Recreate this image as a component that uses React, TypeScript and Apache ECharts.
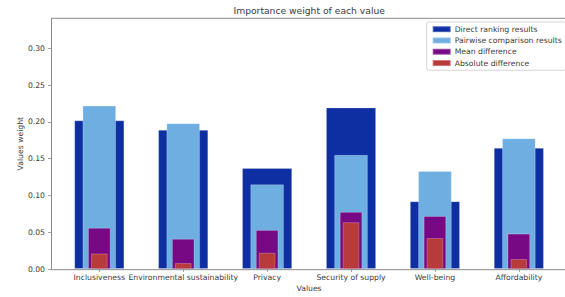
import React, { useEffect, useRef } from 'react';
import * as echarts from 'echarts';

const categories = ['Inclusiveness', 'Environmental sustainability', 'Privacy', 'Security of supply', 'Well-being', 'Affordability'];
const directRanking = [0.202, 0.189, 0.137, 0.2195, 0.092, 0.1645];
const pairwise = [0.222, 0.198, 0.115, 0.155, 0.133, 0.1775];
const meanDiff = [0.056, 0.041, 0.053, 0.0775, 0.072, 0.048];
const absDiff = [0.021, 0.008, 0.022, 0.0635, 0.042, 0.0135];
const yTicks = [0, 0.05, 0.1, 0.15, 0.2, 0.25, 0.3];
const seriesNames = ['Direct ranking results', 'Pairwise comparison results', 'Mean difference', 'Absolute difference'];

const FONT = '"DejaVu Sans", sans-serif';
const TXT = '#3a3a3a';
const SPINE = '#8a8a8a';

export default function App() {
  const ref = useRef<HTMLDivElement>(null);
  useEffect(() => {
    if (!ref.current) return;
    const chart = echarts.init(ref.current, undefined, { renderer: 'svg' });
    const left = 57.35, right = 4.2, top = 18.3, bottom = 27.3;
    const W = 565, H = 297;
    const axisBottomY = H - bottom;
    const hiddenX = { type: 'category', data: categories, show: false, boundaryGap: true };
    const colors = ['#0d2fa1', '#6eaee1', '#770a84', '#b83a3a'];
    const widths = [50, 33.5, 22.5, 16.5];
    const datas = [directRanking, pairwise, meanDiff, absDiff];
    chart.setOption({
      animation: false,
      backgroundColor: '#ffffff',
      textStyle: { fontFamily: FONT },
      title: {
        text: 'Importance weight of each value',
        left: 309.2,
        textAlign: 'center',
        top: 5.5,
        padding: 0,
        textStyle: { fontFamily: FONT, fontSize: 9.2, fontWeight: 'normal', color: TXT },
      },
      legend: {
        orient: 'vertical',
        left: 426.7,
        top: 22,
        padding: [2.5, 4, 2.5, 5],
        itemWidth: 18,
        itemHeight: 6,
        itemGap: 2,
        icon: 'rect',
        backgroundColor: '#ffffff',
        borderColor: '#d4d4d4',
        borderWidth: 1,
        borderRadius: 2,
        data: seriesNames,
        textStyle: { fontFamily: FONT, fontSize: 7.7, lineHeight: 9.3, color: TXT, padding: [0, 0, 0, -1] },
      },
      grid: { left, right, top, bottom, containLabel: false },
      xAxis: [
        {
          type: 'category',
          data: categories,
          boundaryGap: true,
          name: 'Values',
          nameLocation: 'middle',
          nameGap: 15,
          nameMoveOverlap: false,
          nameTextStyle: { fontFamily: FONT, fontSize: 7.7, color: TXT },
          axisLine: { show: false },
          axisTick: { show: true, alignWithLabel: true, length: 3, lineStyle: { color: SPINE, width: 0.8 } },
          axisLabel: { interval: 0, hideOverlap: false, margin: 4.5, fontFamily: FONT, fontSize: 7.7, color: TXT },
          splitLine: { show: false },
        },
        hiddenX,
        hiddenX,
        hiddenX,
      ],
      yAxis: {
        type: 'value',
        min: 0,
        max: 0.3407,
        interval: 0.05,
        offset: 6.35,
        name: 'Values weight',
        nameLocation: 'middle',
        nameRotate: 90,
        nameGap: 27,
        nameMoveOverlap: false,
        nameTextStyle: { fontFamily: FONT, fontSize: 7.7, color: TXT },
        axisLine: { show: true, lineStyle: { color: SPINE, width: 1 } },
        axisTick: { show: true, length: 3, customValues: yTicks, lineStyle: { color: SPINE, width: 0.8 } },
        axisLabel: {
          customValues: yTicks,
          margin: 6,
          fontFamily: FONT,
          fontSize: 7.7,
          color: TXT,
          formatter: (v: number) => v.toFixed(2),
        },
        splitLine: { show: false },
      },
      series: datas.map((d, i) => ({
        type: 'bar',
        name: seriesNames[i],
        xAxisIndex: i,
        data: d,
        barWidth: widths[i],
        itemStyle: { color: colors[i], borderColor: 'rgba(255,255,255,0.3)', borderWidth: 0.8 },
        emphasis: { disabled: true },
      })),
      graphic: [
        {
          type: 'line',
          silent: true,
          shape: { x1: 51, y1: top, x2: W, y2: top },
          style: { stroke: SPINE, lineWidth: 1 },
          z: 10,
        },
        {
          type: 'line',
          silent: true,
          shape: { x1: 51, y1: axisBottomY, x2: W, y2: axisBottomY },
          style: { stroke: SPINE, lineWidth: 1 },
          z: 10,
        },
      ],
    });
    return () => chart.dispose();
  }, []);
  return <div ref={ref} style={{ position: 'fixed', left: 0, top: 0, width: 565, height: 297 }} />;
}
